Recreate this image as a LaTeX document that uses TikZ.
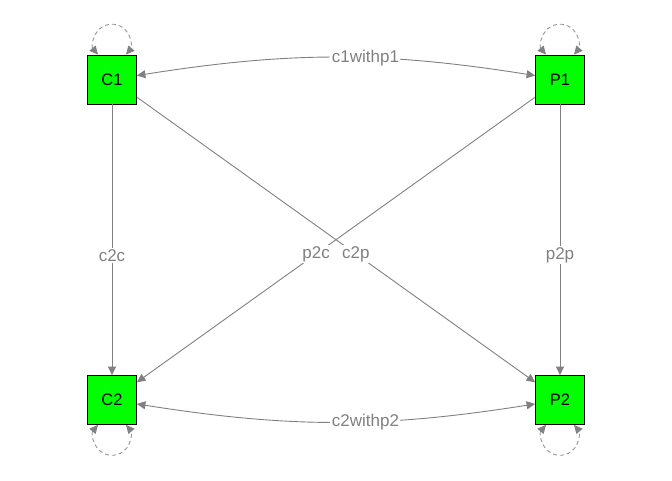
\documentclass[tikz,border=0pt]{standalone}
\usepackage{fontspec}
\setmainfont{Liberation Sans}
\usetikzlibrary{arrows.meta}
\definecolor{nodegreen}{RGB}{0,255,0}
\definecolor{linkgray}{RGB}{128,128,128}
\definecolor{loopgray}{RGB}{150,150,150}
\begin{document}
\begin{tikzpicture}[x=1pt,y=1pt,
  state/.style={draw=black, line width=0.8pt, fill=nodegreen, minimum size=49pt,
    inner sep=0pt, font=\fontsize{16.5}{19}\selectfont},
  link/.style={draw=linkgray, line width=0.9pt, -{Triangle[length=8.5pt,width=8pt]}},
  twoway/.style={draw=linkgray, line width=0.9pt,
    {Triangle[length=8.5pt,width=8pt]}-{Triangle[length=8.5pt,width=8pt]}},
  selfloop/.style={draw=loopgray, line width=0.9pt, dash pattern=on 4pt off 3pt,
    {Triangle[length=8.5pt,width=8pt,color=linkgray]}-{Triangle[length=8.5pt,width=8pt,color=linkgray]}},
  elabel/.style={fill=white, text=linkgray, inner sep=1.5pt,
    font=\fontsize{17}{20}\selectfont}
]
\useasboundingbox (0,0) rectangle (672,480);

% four states
\node[state] (C1) at (112,400.5) {C1};
\node[state] (P1) at (560,400.5) {P1};
\node[state] (C2) at (112,80) {C2};
\node[state] (P2) at (560,80) {P2};

% transitions between states
\draw[twoway] (C1) to[bend left=9] node[elabel, pos=0.58] {c1withp1} (P1);
\draw[twoway] (C2) to[bend right=9] node[elabel, pos=0.58] {c2withp2} (P2);
\draw[link] (C1) -- node[elabel, pos=0.557] {c2c} (C2);
\draw[link] (P1) -- node[elabel, pos=0.557] {p2p} (P2);
\draw[link] (C1) -- node[elabel, pos=0.55] {c2p} (P2);
\draw[link] (P1) -- node[elabel, pos=0.55] {p2c} (C2);

% self transitions
\draw[selfloop] ([xshift=-14pt]C1.north) arc[start angle=220.6, end angle=-40.6, radius=18.44];
\draw[selfloop] ([xshift=-14pt]P1.north) arc[start angle=220.6, end angle=-40.6, radius=18.44];
\draw[selfloop] ([xshift=-14pt]C2.south) arc[start angle=139.4, end angle=400.6, radius=18.44];
\draw[selfloop] ([xshift=-14pt]P2.south) arc[start angle=139.4, end angle=400.6, radius=18.44];
\end{tikzpicture}
\end{document}
